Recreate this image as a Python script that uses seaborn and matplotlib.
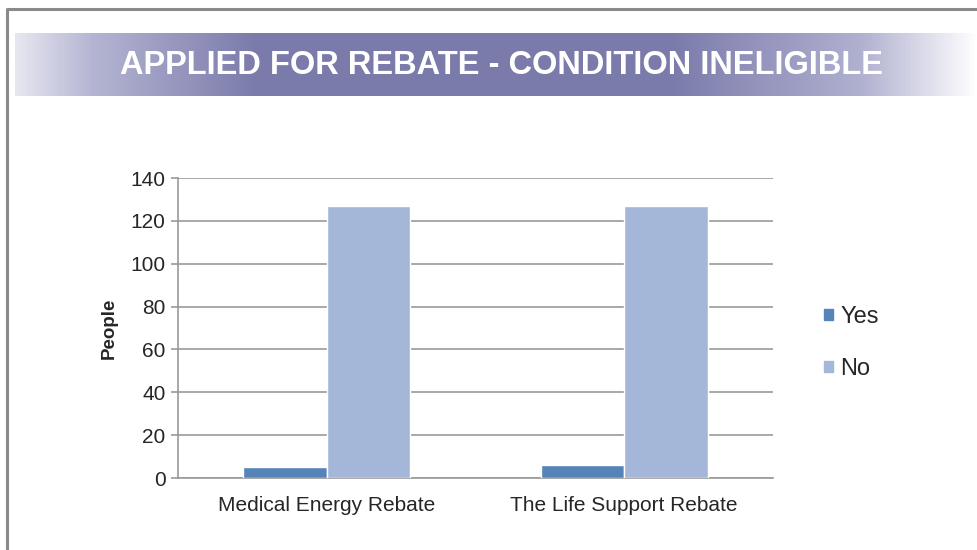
import matplotlib
matplotlib.use("Agg")
import matplotlib.pyplot as plt
import seaborn as sns
import numpy as np
import pandas as pd
from matplotlib.patches import Rectangle
from matplotlib.colors import LinearSegmentedColormap

# Data
rebates = ["Medical Energy Rebate", "The Life Support Rebate"]
yesCounts = [5, 6]
noCounts = [127, 127]
answers = ["Yes", "No"]
palette = {"Yes": "#5585b8", "No": "#a4b7d9"}

df = pd.DataFrame({
    "rebate": rebates * 2,
    "answer": ["Yes"] * len(rebates) + ["No"] * len(rebates),
    "people": yesCounts + noCounts,
})

sns.set_style("white")
plt.rcParams["font.family"] = ["Liberation Sans", "DejaVu Sans"]

fig = plt.figure(figsize=(9.78, 5.5), dpi=100)

# Slide frame
frame = fig.add_axes([0, 0, 1, 1])
frame.axis("off")
frame.plot([7, 7, 978], [550, 9, 9], color="#8a8a8a", lw=2.2, solid_capstyle="butt")

# Gradient title banner
cmap = LinearSegmentedColormap.from_list(
    "banner", [(0, "#e6e6f0"), (0.08, "#b4b4d2"), (0.25, "#7b7bab"),
               (0.68, "#7b7bab"), (0.88, "#b0b0d0"), (1, "#ffffff")]
)
grad = np.linspace(0, 1, 512).reshape(1, -1)
frame.imshow(grad, cmap=cmap, aspect="auto", extent=[15, 978, 96, 33], zorder=1)
frame.text(501, 66, "APPLIED FOR REBATE - CONDITION INELIGIBLE", color="white",
           fontsize=23.5, fontweight="bold", ha="center", va="center", zorder=2)
frame.set_xlim(0, 978)
frame.set_ylim(550, 0)

# Chart
ax = fig.add_axes([178 / 978, 1 - 478 / 550, 595 / 978, 300 / 550])
sns.barplot(data=df, x="rebate", y="people", hue="answer", hue_order=answers,
            palette=palette, width=0.56, edgecolor="white", linewidth=1,
            saturation=1, ax=ax, zorder=3)
ax.set_ylim(0, 140)
ax.set_xlim(-0.5, 1.5)
ax.set_yticks(range(0, 141, 20))
ax.yaxis.grid(True, color="#9a9a9a", lw=1.2, zorder=0)
ax.set_axisbelow(True)
for side in ["top", "right"]:
    ax.spines[side].set_visible(False)
for side in ["left", "bottom"]:
    ax.spines[side].set_color("#9a9a9a")
    ax.spines[side].set_linewidth(1.2)
ax.tick_params(axis="y", length=5, color="#9a9a9a", width=1.2, labelsize=15, pad=4, left=True)
ax.tick_params(axis="x", length=0, labelsize=15, pad=13)
ax.set_xlabel("")
ax.set_ylabel("People", fontsize=13.5, fontweight="bold", labelpad=9)

handles = [Rectangle((0, 0), 1, 1, color=palette[a]) for a in answers]
ax.legend(handles, answers, loc="center left", bbox_to_anchor=(1.05, 0.45),
          frameon=False, fontsize=17, handlelength=0.4, handleheight=0.35,
          handletextpad=0.3, labelspacing=1.3)

fig.savefig("out.png", dpi=100)
